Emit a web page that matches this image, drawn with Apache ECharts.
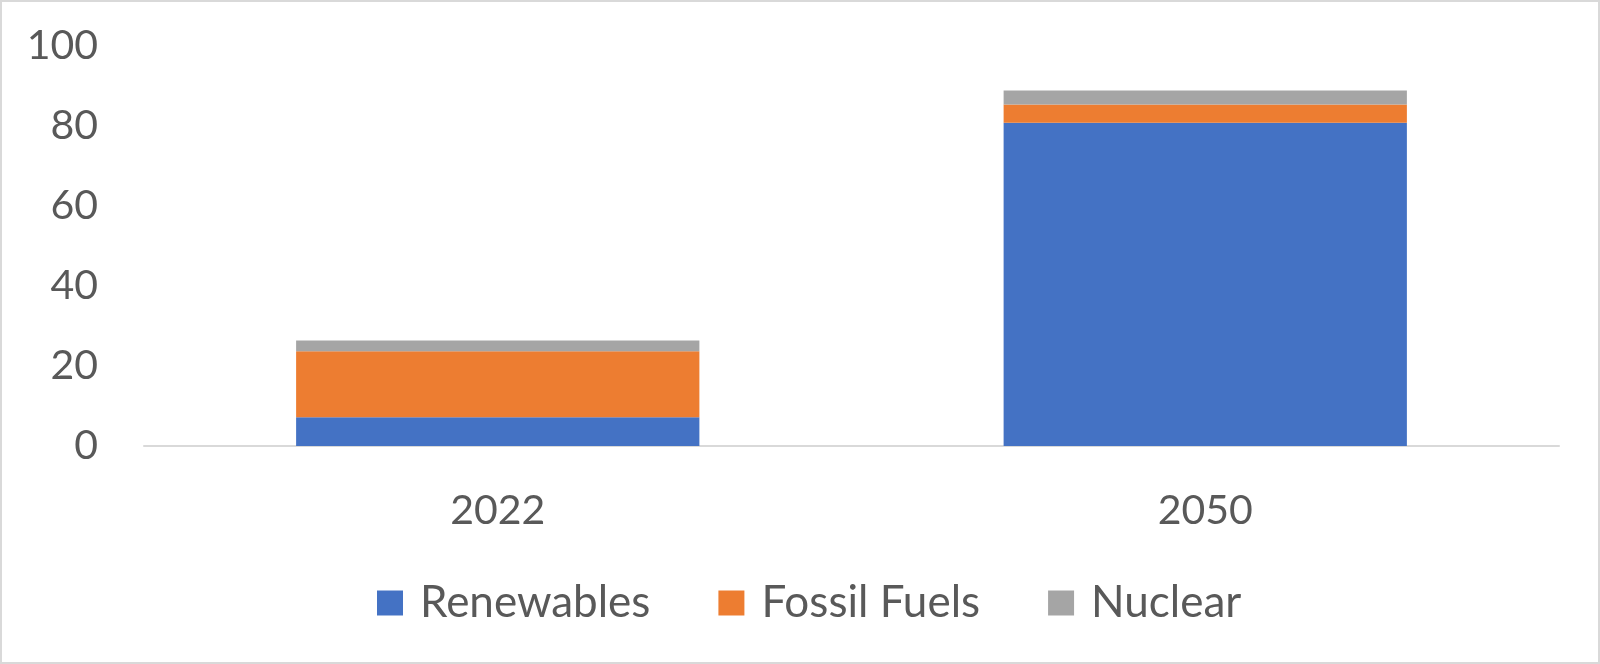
<!DOCTYPE html>
<html>
<head>
<meta charset="utf-8">
<title>Energy mix 2022 vs 2050</title>
<script src="https://cdn.jsdelivr.net/npm/echarts@6/dist/echarts.min.js"></script>
<style>
  html, body { margin: 0; padding: 0; background: #fff; }
  #main { width: 1600px; height: 664px; box-sizing: border-box; border: 2px solid #d9d9d9; }
</style>
</head>
<body>
<div id="main"></div>
<script>
// data
var years = ['2022', '2050'];
var renewables = [7.2, 80.8];
var fossilFuels = [16.5, 4.6];
var nuclear = [2.7, 3.5];
var yTicks = [0, 20, 40, 60, 80, 100];

var textColor = '#595959';
var font = 'Lato';

var myChart = echarts.init(document.getElementById('main'));
var option = {
  animation: false,
  color: ['#4472C4', '#ED7D31', '#A5A5A5'],
  grid: { left: 142, right: 39, top: 44, bottom: 216 },
  legend: {
    data: ['Renewables', 'Fossil Fuels', 'Nuclear'],
    bottom: 32,
    left: 370,
    icon: 'rect',
    itemWidth: 26,
    itemHeight: 25,
    itemGap: 68,
    textStyle: { color: textColor, fontSize: 44, fontFamily: font, padding: [0, 0, 0, 12] }
  },
  xAxis: {
    type: 'category',
    data: years,
    axisLine: { lineStyle: { color: '#D9D9D9', width: 2 } },
    axisTick: { show: false },
    axisLabel: { color: textColor, fontSize: 41, fontFamily: font, margin: 44 }
  },
  yAxis: {
    type: 'value',
    min: yTicks[0],
    max: yTicks[yTicks.length - 1],
    interval: yTicks[1] - yTicks[0],
    axisLine: { show: false },
    axisTick: { show: false },
    splitLine: { show: false },
    axisLabel: { color: textColor, fontSize: 41, fontFamily: font, margin: 46 }
  },
  series: [
    { name: 'Renewables', type: 'bar', stack: 'total', barWidth: '57%', data: renewables },
    { name: 'Fossil Fuels', type: 'bar', stack: 'total', data: fossilFuels },
    { name: 'Nuclear', type: 'bar', stack: 'total', data: nuclear }
  ]
};
myChart.setOption(option);
</script>
</body>
</html>
